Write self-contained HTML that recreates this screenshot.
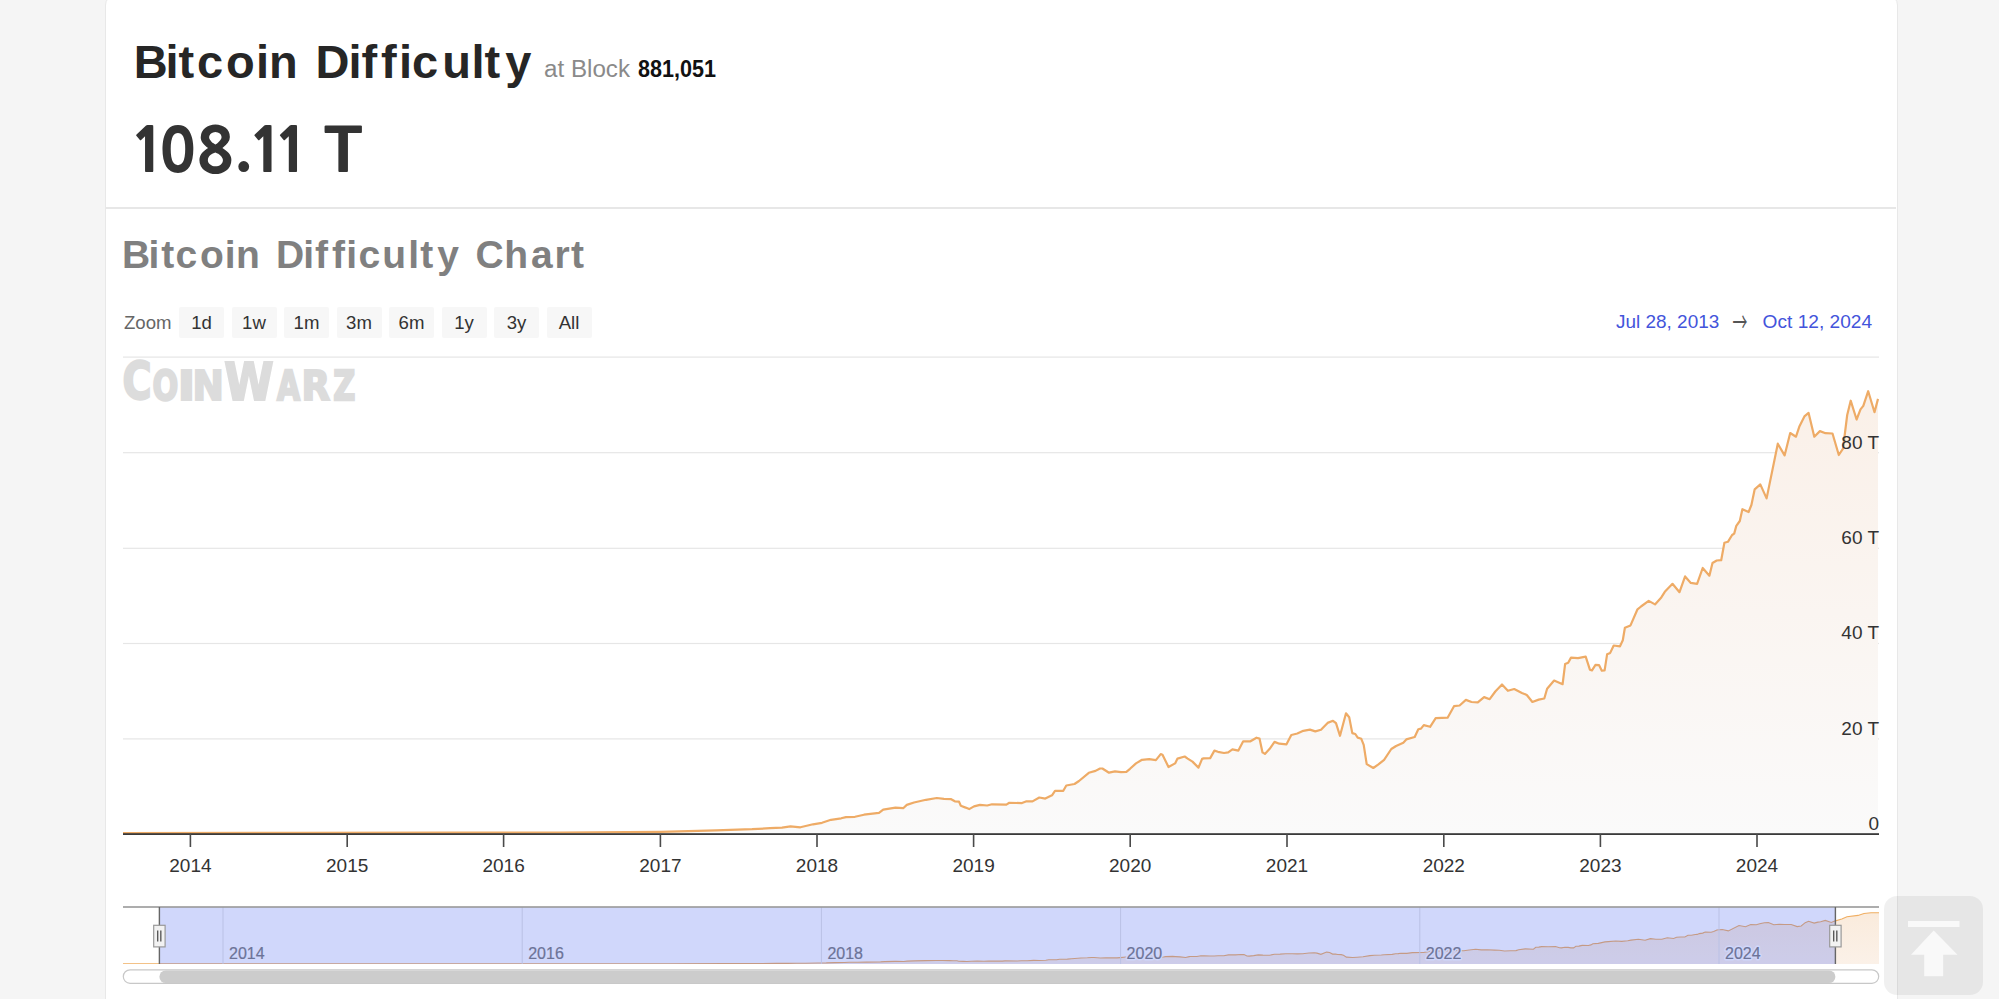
<!DOCTYPE html>
<html lang="en">
<head>
<meta charset="utf-8">
<title>Bitcoin Difficulty Chart</title>
<style>
html,body{margin:0;padding:0;}
body{width:1999px;height:999px;overflow:hidden;background:#f5f5f5;position:relative;font-family:"Liberation Sans",Arial,sans-serif;}
.card{position:absolute;left:105px;top:-5px;width:1791px;height:1100px;background:#fff;border:1px solid #e8e8e8;border-radius:10px;}
.divider{position:absolute;left:106px;top:207px;width:1790px;height:2px;background:#e7e7e7;}
.btn{position:absolute;top:307px;width:45px;height:31px;background:#f7f7f7;border-radius:2px;}
.chart{position:absolute;left:0;top:0;}
.chart{font-family:"Liberation Sans",Arial,sans-serif;}
.xl{font-size:19px;fill:#333;}
.yl{font-size:19px;fill:#333;}
.nl{font-size:16px;fill:#7a7a7a;stroke:#7a7a7a;stroke-width:0.2px;}
.nh{stroke:#fff;stroke-width:3px;stroke-linejoin:round;fill:#fff;}
.totop{position:absolute;left:1884px;top:896px;width:99px;height:99px;border-radius:13px;background:rgba(0,0,0,0.06);}
.totop svg{position:absolute;left:0;top:0;}
</style>
</head>
<body>
<div class="card"></div>
<div class="divider"></div>
<div class="btn" style="left:179px"></div>
<div class="btn" style="left:231.5px"></div>
<div class="btn" style="left:284px"></div>
<div class="btn" style="left:336.5px"></div>
<div class="btn" style="left:389px"></div>
<div class="btn" style="left:441.5px"></div>
<div class="btn" style="left:494px"></div>
<div class="btn" style="left:546.5px"></div>
<svg class="chart" width="1999" height="999" viewBox="0 0 1999 999">
<defs><linearGradient id="ag" x1="0" y1="0" x2="0" y2="1"><stop offset="0" stop-color="#faf0e8"/><stop offset="1" stop-color="#fafafa"/></linearGradient><linearGradient id="ng" x1="0" y1="0" x2="0" y2="1"><stop offset="0" stop-color="#faebdc"/><stop offset="1" stop-color="#fbf1e8"/></linearGradient><clipPath id="pc"><rect x="123" y="340" width="1756" height="495"/></clipPath><clipPath id="nc"><rect x="123" y="907" width="1756" height="57"/></clipPath></defs>
<text x="133.8 165.5 178.5 197 226 256 269 300 315.6 348.4 361.4 380.9 399 412.1 442.2 471.6 484.5 505.2" y="78.2" font-weight="bold" font-size="47" fill="#262626" style="font-variant-ligatures:none">Bitcoin Difficulty</text>
<text x="544" y="76.8" font-size="23.5" fill="#8a8a8a" textLength="86" lengthAdjust="spacingAndGlyphs">at Block</text>
<text x="638" y="76.8" font-size="23.5" font-weight="bold" fill="#111" textLength="78" lengthAdjust="spacingAndGlyphs">881,051</text>
<text x="129.85 158.9 197.05 234.25 248 273.6" y="171.9" dy="0 0 0 -4.6 4.6 0" style="font-family:NanumGothic,'Liberation Sans',sans-serif;font-weight:800;font-size:60px" fill="#333">108.11</text>
<text transform="translate(324,171.9) scale(1.17,1)" style="font-family:NanumGothic,'Liberation Sans',sans-serif;font-weight:800;font-size:60px" fill="#333">T</text>
<text x="122 148.4 161.2 175.4 200 224.8 236 262 275.9 303.2 315.1 331.9 346.3 358.6 382.2 408.2 420.2 437.2 460 475.5 504.3 530.9 554.4 570.9" y="267.9" font-weight="bold" font-size="39" fill="#808080" style="font-variant-ligatures:none">Bitcoin Difficulty Chart</text>
<text x="124" y="328.8" font-size="18.6" fill="#666">Zoom</text>
<text x="201.5" y="328.8" font-size="18.6" fill="#333" text-anchor="middle">1d</text>
<text x="254.0" y="328.8" font-size="18.6" fill="#333" text-anchor="middle">1w</text>
<text x="306.5" y="328.8" font-size="18.6" fill="#333" text-anchor="middle">1m</text>
<text x="359.0" y="328.8" font-size="18.6" fill="#333" text-anchor="middle">3m</text>
<text x="411.5" y="328.8" font-size="18.6" fill="#333" text-anchor="middle">6m</text>
<text x="464.0" y="328.8" font-size="18.6" fill="#333" text-anchor="middle">1y</text>
<text x="516.5" y="328.8" font-size="18.6" fill="#333" text-anchor="middle">3y</text>
<text x="569.0" y="328.8" font-size="18.6" fill="#333" text-anchor="middle">All</text>
<text x="1616" y="328.2" font-size="18.6" fill="#4354db" textLength="103.3" lengthAdjust="spacingAndGlyphs">Jul 28, 2013</text>
<text transform="translate(1732.4,320.6) scale(0.8,1.49)" y="7.68" style="font-family:'Noto Sans CJK JP','DejaVu Sans',sans-serif;font-size:18.6px" fill="#555">→</text>
<text x="1762.6" y="328.2" font-size="18.6" fill="#4354db" textLength="109.5" lengthAdjust="spacingAndGlyphs">Oct 12, 2024</text>
<g fill="#dcdcdc">
<text transform="translate(122.38,398.57) scale(0.779,1)" style="font-family:'DejaVu Sans',sans-serif;font-weight:bold;font-size:50.76px" stroke="#dcdcdc" stroke-width="2.27" stroke-linejoin="miter">C</text>
<text transform="translate(152.62,400.12) scale(0.735,1)" style="font-family:'DejaVu Sans',sans-serif;font-weight:bold;font-size:41.25px" stroke="#dcdcdc" stroke-width="2.33" stroke-linejoin="miter">O</text>
<text transform="translate(177.62,400.12) scale(1.167,1)" style="font-family:'DejaVu Sans',sans-serif;font-weight:bold;font-size:41.25px" stroke="#dcdcdc" stroke-width="1.85" stroke-linejoin="miter">I</text>
<text transform="translate(192.59,400.12) scale(0.910,1)" style="font-family:'DejaVu Sans',sans-serif;font-weight:bold;font-size:41.25px" stroke="#dcdcdc" stroke-width="2.10" stroke-linejoin="miter">N</text>
<text transform="translate(224.33,399.54) scale(0.859,1)" style="font-family:'DejaVu Sans',sans-serif;font-weight:bold;font-size:52.09px" stroke="#dcdcdc" stroke-width="2.16" stroke-linejoin="miter">W</text>
<text transform="translate(277.00,400.12) scale(0.722,1)" style="font-family:'DejaVu Sans',sans-serif;font-weight:bold;font-size:41.25px" stroke="#dcdcdc" stroke-width="2.35" stroke-linejoin="miter">A</text>
<text transform="translate(301.62,400.12) scale(0.901,1)" style="font-family:'DejaVu Sans',sans-serif;font-weight:bold;font-size:41.25px" stroke="#dcdcdc" stroke-width="2.11" stroke-linejoin="miter">R</text>
<text transform="translate(333.21,400.12) scale(0.739,1)" style="font-family:'DejaVu Sans',sans-serif;font-weight:bold;font-size:41.25px" stroke="#dcdcdc" stroke-width="2.33" stroke-linejoin="miter">Z</text>
</g>
<rect x="123" y="356.5" width="1756" height="1.2" fill="#e6e6e6"/>
<rect x="123" y="452.1" width="1756" height="1.2" fill="#e6e6e6"/>
<rect x="123" y="547.7" width="1756" height="1.2" fill="#e6e6e6"/>
<rect x="123" y="642.9" width="1756" height="1.2" fill="#e6e6e6"/>
<rect x="123" y="738.3" width="1756" height="1.2" fill="#e6e6e6"/>
<path d="M123 833 L300 832.9 L450 832.7 L560 832.5 L660.8 831.8 L716 830.4 L752 829.2 L770 828.2 L782 827.6 L790.5 826.4 L800.4 827.3 L813 824.3 L822 822.8 L831 819.8 L841.2 818.3 L846 817.1 L855 816.8 L864 814.7 L879 812.9 L883.2 809.6 L894 807.8 L895.4 807.6 L903.2 808.2 L906.8 804.9 L914 802.5 L926 799.8 L936.8 798 L944 798.9 L951.2 799.2 L954.8 801.3 L959 801.6 L960.8 805.8 L965.6 807.6 L969.2 809.1 L974 806.4 L980 804.9 L987.2 805.5 L992 804.3 L1006.4 804.6 L1009.3 802.8 L1022 803.1 L1026.5 801.3 L1032.5 801.4 L1039.3 797.5 L1045.3 798.6 L1052 795.3 L1055 790.8 L1063.3 790.8 L1066.3 785.5 L1074.5 784 L1079 781 L1088.8 772.8 L1095.5 770.9 L1100 768.5 L1102.4 768.5 L1109 772.7 L1115 771.4 L1121 772.1 L1126.4 771.8 L1130 768.8 L1136 763.4 L1142 759.8 L1149.2 759.2 L1155.9 760.1 L1160.7 754.1 L1162.5 754.7 L1168.5 767 L1175.1 763.4 L1177.5 758.6 L1184.7 756.5 L1187.7 758.6 L1192.5 761.6 L1198.5 767.6 L1202.1 758.9 L1203.6 758.4 L1210.2 758.1 L1214.4 750.6 L1218 751.8 L1224 753 L1228.2 752.4 L1232.4 749.4 L1238.4 750.6 L1243.2 741.3 L1250.5 741.3 L1256.5 737.7 L1259.5 738.6 L1262.5 752.4 L1264.9 753.9 L1269.7 748.8 L1274.5 741.9 L1279.3 743.7 L1286.5 744.3 L1291.3 735 L1297.3 733.5 L1303.3 730.8 L1309.9 729.6 L1315.3 731.4 L1321 729.8 L1327.6 722.9 L1333 720.8 L1336 723.2 L1340 735.8 L1346 713.3 L1349.2 717.2 L1352.3 733.1 L1355.3 734 L1357.7 737.6 L1361.3 738.8 L1363.7 744.8 L1366.7 764.1 L1373.3 768 L1378.1 764.7 L1384.1 759.9 L1391.3 749 L1396.1 746 L1403.3 742.7 L1406.3 739.4 L1414.7 737 L1418.3 729.2 L1421 728.6 L1423.8 725.1 L1430.1 726.8 L1435.7 718.1 L1447.6 717.7 L1454 706.2 L1459.6 705.5 L1465.9 699.9 L1471.5 702 L1477.8 702.4 L1484.1 697.1 L1489.7 699.2 L1495.3 691.5 L1502 684.5 L1507.9 690.8 L1514.2 689 L1521.9 692.9 L1526.8 695 L1532.4 702 L1538.7 699.6 L1544.3 698.5 L1547.1 688.7 L1554.1 680.5 L1562.6 684.2 L1565.1 664.1 L1568.2 662.7 L1571 657.6 L1578 658.1 L1585.7 656.7 L1589.9 669.7 L1592 670.4 L1595.5 664.8 L1599 665.1 L1601.8 670.7 L1604.6 670.4 L1607.1 654.3 L1610.2 652.9 L1613.7 645.5 L1620 646.3 L1622.8 640.3 L1624.9 627.8 L1630.5 625.4 L1637.5 609.3 L1641 606.5 L1648.7 600.9 L1655 604.4 L1661.3 597.4 L1664.8 591.8 L1672.5 583.8 L1679.5 592.2 L1685.1 576.4 L1690.8 582.9 L1697.1 583.8 L1702.7 568 L1709.4 575.7 L1712.5 563 L1716.7 560.5 L1721.2 560.2 L1724.4 542.7 L1727.9 541.8 L1732.1 535 L1734.2 533.6 L1736.3 525.9 L1739.8 521 L1742.4 509.2 L1748.6 512 L1751.4 505 L1754.7 489.3 L1760.3 484.4 L1766.6 498.4 L1777.8 443.7 L1784.6 455.4 L1790.2 433 L1796 436.7 L1799.5 426.2 L1804.4 416.4 L1808.6 412.9 L1814.3 436.7 L1819.9 431.1 L1825.5 433.2 L1832.5 433.5 L1838.8 455 L1843 448.6 L1847.2 415 L1850.7 400.7 L1856.6 419.5 L1860.5 409.4 L1863.3 405.9 L1868.2 391.2 L1874.5 412.2 L1878 398.9 L1878 834 L123 834 Z" fill="url(#ag)" clip-path="url(#pc)"/>
<path d="M123 833 L300 832.9 L450 832.7 L560 832.5 L660.8 831.8 L716 830.4 L752 829.2 L770 828.2 L782 827.6 L790.5 826.4 L800.4 827.3 L813 824.3 L822 822.8 L831 819.8 L841.2 818.3 L846 817.1 L855 816.8 L864 814.7 L879 812.9 L883.2 809.6 L894 807.8 L895.4 807.6 L903.2 808.2 L906.8 804.9 L914 802.5 L926 799.8 L936.8 798 L944 798.9 L951.2 799.2 L954.8 801.3 L959 801.6 L960.8 805.8 L965.6 807.6 L969.2 809.1 L974 806.4 L980 804.9 L987.2 805.5 L992 804.3 L1006.4 804.6 L1009.3 802.8 L1022 803.1 L1026.5 801.3 L1032.5 801.4 L1039.3 797.5 L1045.3 798.6 L1052 795.3 L1055 790.8 L1063.3 790.8 L1066.3 785.5 L1074.5 784 L1079 781 L1088.8 772.8 L1095.5 770.9 L1100 768.5 L1102.4 768.5 L1109 772.7 L1115 771.4 L1121 772.1 L1126.4 771.8 L1130 768.8 L1136 763.4 L1142 759.8 L1149.2 759.2 L1155.9 760.1 L1160.7 754.1 L1162.5 754.7 L1168.5 767 L1175.1 763.4 L1177.5 758.6 L1184.7 756.5 L1187.7 758.6 L1192.5 761.6 L1198.5 767.6 L1202.1 758.9 L1203.6 758.4 L1210.2 758.1 L1214.4 750.6 L1218 751.8 L1224 753 L1228.2 752.4 L1232.4 749.4 L1238.4 750.6 L1243.2 741.3 L1250.5 741.3 L1256.5 737.7 L1259.5 738.6 L1262.5 752.4 L1264.9 753.9 L1269.7 748.8 L1274.5 741.9 L1279.3 743.7 L1286.5 744.3 L1291.3 735 L1297.3 733.5 L1303.3 730.8 L1309.9 729.6 L1315.3 731.4 L1321 729.8 L1327.6 722.9 L1333 720.8 L1336 723.2 L1340 735.8 L1346 713.3 L1349.2 717.2 L1352.3 733.1 L1355.3 734 L1357.7 737.6 L1361.3 738.8 L1363.7 744.8 L1366.7 764.1 L1373.3 768 L1378.1 764.7 L1384.1 759.9 L1391.3 749 L1396.1 746 L1403.3 742.7 L1406.3 739.4 L1414.7 737 L1418.3 729.2 L1421 728.6 L1423.8 725.1 L1430.1 726.8 L1435.7 718.1 L1447.6 717.7 L1454 706.2 L1459.6 705.5 L1465.9 699.9 L1471.5 702 L1477.8 702.4 L1484.1 697.1 L1489.7 699.2 L1495.3 691.5 L1502 684.5 L1507.9 690.8 L1514.2 689 L1521.9 692.9 L1526.8 695 L1532.4 702 L1538.7 699.6 L1544.3 698.5 L1547.1 688.7 L1554.1 680.5 L1562.6 684.2 L1565.1 664.1 L1568.2 662.7 L1571 657.6 L1578 658.1 L1585.7 656.7 L1589.9 669.7 L1592 670.4 L1595.5 664.8 L1599 665.1 L1601.8 670.7 L1604.6 670.4 L1607.1 654.3 L1610.2 652.9 L1613.7 645.5 L1620 646.3 L1622.8 640.3 L1624.9 627.8 L1630.5 625.4 L1637.5 609.3 L1641 606.5 L1648.7 600.9 L1655 604.4 L1661.3 597.4 L1664.8 591.8 L1672.5 583.8 L1679.5 592.2 L1685.1 576.4 L1690.8 582.9 L1697.1 583.8 L1702.7 568 L1709.4 575.7 L1712.5 563 L1716.7 560.5 L1721.2 560.2 L1724.4 542.7 L1727.9 541.8 L1732.1 535 L1734.2 533.6 L1736.3 525.9 L1739.8 521 L1742.4 509.2 L1748.6 512 L1751.4 505 L1754.7 489.3 L1760.3 484.4 L1766.6 498.4 L1777.8 443.7 L1784.6 455.4 L1790.2 433 L1796 436.7 L1799.5 426.2 L1804.4 416.4 L1808.6 412.9 L1814.3 436.7 L1819.9 431.1 L1825.5 433.2 L1832.5 433.5 L1838.8 455 L1843 448.6 L1847.2 415 L1850.7 400.7 L1856.6 419.5 L1860.5 409.4 L1863.3 405.9 L1868.2 391.2 L1874.5 412.2 L1878 398.9" fill="none" stroke="#eeab66" stroke-width="2.2" stroke-linejoin="round" clip-path="url(#pc)"/>
<rect x="123" y="833.2" width="1756" height="1.8" fill="#3a3a3a"/>
<rect x="189.6" y="834" width="1.6" height="13" fill="#4a4a4a"/>
<text x="190.4" y="872" text-anchor="middle" class="xl">2014</text>
<rect x="346.4" y="834" width="1.6" height="13" fill="#4a4a4a"/>
<text x="347.2" y="872" text-anchor="middle" class="xl">2015</text>
<rect x="502.8" y="834" width="1.6" height="13" fill="#4a4a4a"/>
<text x="503.6" y="872" text-anchor="middle" class="xl">2016</text>
<rect x="659.6" y="834" width="1.6" height="13" fill="#4a4a4a"/>
<text x="660.4" y="872" text-anchor="middle" class="xl">2017</text>
<rect x="816.2" y="834" width="1.6" height="13" fill="#4a4a4a"/>
<text x="817" y="872" text-anchor="middle" class="xl">2018</text>
<rect x="972.8000000000001" y="834" width="1.6" height="13" fill="#4a4a4a"/>
<text x="973.6" y="872" text-anchor="middle" class="xl">2019</text>
<rect x="1129.4" y="834" width="1.6" height="13" fill="#4a4a4a"/>
<text x="1130.2" y="872" text-anchor="middle" class="xl">2020</text>
<rect x="1286.2" y="834" width="1.6" height="13" fill="#4a4a4a"/>
<text x="1287" y="872" text-anchor="middle" class="xl">2021</text>
<rect x="1443.0" y="834" width="1.6" height="13" fill="#4a4a4a"/>
<text x="1443.8" y="872" text-anchor="middle" class="xl">2022</text>
<rect x="1599.6000000000001" y="834" width="1.6" height="13" fill="#4a4a4a"/>
<text x="1600.4" y="872" text-anchor="middle" class="xl">2023</text>
<rect x="1756.2" y="834" width="1.6" height="13" fill="#4a4a4a"/>
<text x="1757" y="872" text-anchor="middle" class="xl">2024</text>
<text x="1879" y="448.6" text-anchor="end" class="yl">80 T</text>
<text x="1879" y="544.2" text-anchor="end" class="yl">60 T</text>
<text x="1879" y="639.4" text-anchor="end" class="yl">40 T</text>
<text x="1879" y="734.8" text-anchor="end" class="yl">20 T</text>
<text x="1879" y="830" text-anchor="end" class="yl">0</text>
<g clip-path="url(#nc)">
<path d="M123 963.9 L327.7 963.9 L470.9 963.9 L576 963.9 L672.2 963.8 L724.9 963.6 L759.3 963.5 L776.5 963.4 L788 963.4 L796.1 963.3 L805.5 963.3 L817.6 963 L826.2 962.9 L834.8 962.6 L844.5 962.5 L849.1 962.3 L857.7 962.3 L866.3 962.1 L880.6 961.9 L884.6 961.6 L894.9 961.4 L896.3 961.4 L903.7 961.5 L907.2 961.1 L914 960.9 L925.5 960.6 L935.8 960.5 L942.7 960.5 L949.6 960.6 L953 960.8 L957 960.8 L958.7 961.2 L963.3 961.4 L966.8 961.5 L971.3 961.3 L977.1 961.1 L983.9 961.2 L988.5 961.1 L1002.3 961.1 L1005 960.9 L1017.2 961 L1021.5 960.8 L1027.2 960.8 L1033.7 960.4 L1039.4 960.5 L1045.8 960.2 L1048.7 959.7 L1056.6 959.7 L1059.5 959.2 L1067.3 959.1 L1071.6 958.8 L1081 958 L1087.4 957.8 L1091.7 957.5 L1094 957.5 L1100.3 958 L1106 957.8 L1111.7 957.9 L1116.9 957.9 L1120.3 957.6 L1126 957 L1131.8 956.7 L1138.6 956.6 L1145 956.7 L1149.6 956.1 L1151.4 956.2 L1157.1 957.4 L1163.4 957 L1165.7 956.6 L1172.6 956.4 L1175.4 956.6 L1180 956.9 L1185.7 957.5 L1189.2 956.6 L1190.6 956.5 L1196.9 956.5 L1200.9 955.8 L1204.4 955.9 L1210.1 956 L1214.1 956 L1218.1 955.7 L1223.8 955.8 L1228.4 954.9 L1235.4 954.9 L1241.1 954.5 L1244 954.6 L1246.9 956 L1249.1 956.1 L1253.7 955.6 L1258.3 954.9 L1262.9 955.1 L1269.8 955.2 L1274.4 954.2 L1280.1 954.1 L1285.8 953.8 L1292.1 953.7 L1297.3 953.9 L1302.7 953.7 L1309 953 L1314.2 952.8 L1317 953.1 L1320.9 954.3 L1326.6 952.1 L1329.6 952.5 L1332.6 954.1 L1335.5 954.1 L1337.8 954.5 L1341.2 954.6 L1343.5 955.2 L1346.4 957.1 L1352.7 957.5 L1357.2 957.2 L1363 956.7 L1369.9 955.6 L1374.4 955.3 L1381.3 955 L1384.2 954.7 L1392.2 954.4 L1395.6 953.7 L1398.2 953.6 L1400.9 953.3 L1406.9 953.4 L1412.3 952.6 L1423.6 952.5 L1429.7 951.4 L1435.1 951.3 L1441.1 950.8 L1446.4 951 L1452.5 951 L1458.5 950.5 L1463.8 950.7 L1469.2 950 L1475.6 949.3 L1481.2 949.9 L1487.2 949.7 L1494.6 950.1 L1499.3 950.3 L1504.6 951 L1510.6 950.8 L1516 950.6 L1518.6 949.7 L1525.3 948.9 L1533.4 949.2 L1535.8 947.3 L1538.8 947.1 L1541.5 946.6 L1548.2 946.7 L1555.5 946.5 L1559.5 947.8 L1561.5 947.9 L1564.9 947.3 L1568.2 947.4 L1570.9 947.9 L1573.6 947.9 L1575.9 946.3 L1578.9 946.1 L1582.2 945.4 L1588.3 945.5 L1590.9 944.9 L1592.9 943.7 L1598.3 943.4 L1605 941.9 L1608.3 941.6 L1615.7 941 L1621.7 941.4 L1627.7 940.7 L1631 940.1 L1638.4 939.3 L1645.1 940.2 L1650.4 938.6 L1655.9 939.2 L1661.9 939.3 L1667.2 937.8 L1673.6 938.5 L1676.6 937.3 L1680.6 937 L1684.9 937 L1688 935.3 L1691.3 935.2 L1695.3 934.5 L1697.3 934.4 L1699.3 933.6 L1702.7 933.1 L1705.2 932 L1711.1 932.3 L1713.7 931.6 L1716.9 930 L1722.2 929.5 L1728.3 930.9 L1739 925.5 L1745.5 926.7 L1750.8 924.5 L1756.3 924.8 L1759.7 923.8 L1764.4 922.8 L1768.4 922.5 L1773.8 924.8 L1779.2 924.3 L1784.5 924.5 L1791.2 924.5 L1797.2 926.6 L1801.2 926 L1805.2 922.7 L1808.6 921.3 L1814.2 923.1 L1817.9 922.1 L1820.6 921.8 L1825.3 920.4 L1831.3 922.4 L1834.6 921.1 L1841.8 919 L1847 916.7 L1858 915.4 L1864 913.5 L1871 912.7 L1880 912.8 L1880 964 L123 964 Z" fill="url(#ng)"/>
<path d="M123 963.9 L327.7 963.9 L470.9 963.9 L576 963.9 L672.2 963.8 L724.9 963.6 L759.3 963.5 L776.5 963.4 L788 963.4 L796.1 963.3 L805.5 963.3 L817.6 963 L826.2 962.9 L834.8 962.6 L844.5 962.5 L849.1 962.3 L857.7 962.3 L866.3 962.1 L880.6 961.9 L884.6 961.6 L894.9 961.4 L896.3 961.4 L903.7 961.5 L907.2 961.1 L914 960.9 L925.5 960.6 L935.8 960.5 L942.7 960.5 L949.6 960.6 L953 960.8 L957 960.8 L958.7 961.2 L963.3 961.4 L966.8 961.5 L971.3 961.3 L977.1 961.1 L983.9 961.2 L988.5 961.1 L1002.3 961.1 L1005 960.9 L1017.2 961 L1021.5 960.8 L1027.2 960.8 L1033.7 960.4 L1039.4 960.5 L1045.8 960.2 L1048.7 959.7 L1056.6 959.7 L1059.5 959.2 L1067.3 959.1 L1071.6 958.8 L1081 958 L1087.4 957.8 L1091.7 957.5 L1094 957.5 L1100.3 958 L1106 957.8 L1111.7 957.9 L1116.9 957.9 L1120.3 957.6 L1126 957 L1131.8 956.7 L1138.6 956.6 L1145 956.7 L1149.6 956.1 L1151.4 956.2 L1157.1 957.4 L1163.4 957 L1165.7 956.6 L1172.6 956.4 L1175.4 956.6 L1180 956.9 L1185.7 957.5 L1189.2 956.6 L1190.6 956.5 L1196.9 956.5 L1200.9 955.8 L1204.4 955.9 L1210.1 956 L1214.1 956 L1218.1 955.7 L1223.8 955.8 L1228.4 954.9 L1235.4 954.9 L1241.1 954.5 L1244 954.6 L1246.9 956 L1249.1 956.1 L1253.7 955.6 L1258.3 954.9 L1262.9 955.1 L1269.8 955.2 L1274.4 954.2 L1280.1 954.1 L1285.8 953.8 L1292.1 953.7 L1297.3 953.9 L1302.7 953.7 L1309 953 L1314.2 952.8 L1317 953.1 L1320.9 954.3 L1326.6 952.1 L1329.6 952.5 L1332.6 954.1 L1335.5 954.1 L1337.8 954.5 L1341.2 954.6 L1343.5 955.2 L1346.4 957.1 L1352.7 957.5 L1357.2 957.2 L1363 956.7 L1369.9 955.6 L1374.4 955.3 L1381.3 955 L1384.2 954.7 L1392.2 954.4 L1395.6 953.7 L1398.2 953.6 L1400.9 953.3 L1406.9 953.4 L1412.3 952.6 L1423.6 952.5 L1429.7 951.4 L1435.1 951.3 L1441.1 950.8 L1446.4 951 L1452.5 951 L1458.5 950.5 L1463.8 950.7 L1469.2 950 L1475.6 949.3 L1481.2 949.9 L1487.2 949.7 L1494.6 950.1 L1499.3 950.3 L1504.6 951 L1510.6 950.8 L1516 950.6 L1518.6 949.7 L1525.3 948.9 L1533.4 949.2 L1535.8 947.3 L1538.8 947.1 L1541.5 946.6 L1548.2 946.7 L1555.5 946.5 L1559.5 947.8 L1561.5 947.9 L1564.9 947.3 L1568.2 947.4 L1570.9 947.9 L1573.6 947.9 L1575.9 946.3 L1578.9 946.1 L1582.2 945.4 L1588.3 945.5 L1590.9 944.9 L1592.9 943.7 L1598.3 943.4 L1605 941.9 L1608.3 941.6 L1615.7 941 L1621.7 941.4 L1627.7 940.7 L1631 940.1 L1638.4 939.3 L1645.1 940.2 L1650.4 938.6 L1655.9 939.2 L1661.9 939.3 L1667.2 937.8 L1673.6 938.5 L1676.6 937.3 L1680.6 937 L1684.9 937 L1688 935.3 L1691.3 935.2 L1695.3 934.5 L1697.3 934.4 L1699.3 933.6 L1702.7 933.1 L1705.2 932 L1711.1 932.3 L1713.7 931.6 L1716.9 930 L1722.2 929.5 L1728.3 930.9 L1739 925.5 L1745.5 926.7 L1750.8 924.5 L1756.3 924.8 L1759.7 923.8 L1764.4 922.8 L1768.4 922.5 L1773.8 924.8 L1779.2 924.3 L1784.5 924.5 L1791.2 924.5 L1797.2 926.6 L1801.2 926 L1805.2 922.7 L1808.6 921.3 L1814.2 923.1 L1817.9 922.1 L1820.6 921.8 L1825.3 920.4 L1831.3 922.4 L1834.6 921.1 L1841.8 919 L1847 916.7 L1858 915.4 L1864 913.5 L1871 912.7 L1880 912.8" fill="none" stroke="#f0ae62" stroke-width="1.1"/>
<rect x="222.5" y="907" width="1" height="57" fill="#e2e2e2"/>
<text x="229" y="958.5" class="nl nh">2014</text>
<text x="229" y="958.5" class="nl">2014</text>
<rect x="521.7" y="907" width="1" height="57" fill="#e2e2e2"/>
<text x="528.2" y="958.5" class="nl nh">2016</text>
<text x="528.2" y="958.5" class="nl">2016</text>
<rect x="820.9" y="907" width="1" height="57" fill="#e2e2e2"/>
<text x="827.4" y="958.5" class="nl nh">2018</text>
<text x="827.4" y="958.5" class="nl">2018</text>
<rect x="1120.1" y="907" width="1" height="57" fill="#e2e2e2"/>
<text x="1126.6" y="958.5" class="nl nh">2020</text>
<text x="1126.6" y="958.5" class="nl">2020</text>
<rect x="1419.3" y="907" width="1" height="57" fill="#e2e2e2"/>
<text x="1425.8" y="958.5" class="nl nh">2022</text>
<text x="1425.8" y="958.5" class="nl">2022</text>
<rect x="1718.5" y="907" width="1" height="57" fill="#e2e2e2"/>
<text x="1725" y="958.5" class="nl nh">2024</text>
<text x="1725" y="958.5" class="nl">2024</text>
<rect x="159.4" y="907" width="1676.0" height="57" fill="rgba(67,95,239,0.25)"/>
</g>
<rect x="123" y="906.2" width="1756" height="1.6" fill="#999"/>
<rect x="158.70000000000002" y="907" width="1.4" height="57" fill="#666"/>
<rect x="1834.7" y="907" width="1.4" height="57" fill="#666"/>
<rect x="153.70000000000002" y="925.3" width="11.4" height="21.6" fill="#f2f2f2" stroke="#999" stroke-width="1.2"/>
<rect x="157.20000000000002" y="930.5" width="1.1" height="11" fill="#333"/>
<rect x="160.3" y="930.5" width="1.1" height="11" fill="#333"/>
<rect x="1829.7" y="925.3" width="11.4" height="21.6" fill="#f2f2f2" stroke="#999" stroke-width="1.2"/>
<rect x="1833.2" y="930.5" width="1.1" height="11" fill="#333"/>
<rect x="1836.3000000000002" y="930.5" width="1.1" height="11" fill="#333"/>
<rect x="123.3" y="969.8" width="1755.4" height="13.6" rx="6.8" fill="#fff" stroke="#c8c8c8" stroke-width="1.2"/>
<rect x="159.4" y="970.4" width="1676.0" height="12.6" rx="6.3" fill="#cccccc"/>
</svg>
<div class="totop"><svg width="99" height="99" viewBox="0 0 99 99"><rect x="24" y="25" width="51.5" height="6" fill="rgba(255,255,255,0.75)"/><path d="M49.7 34.6 L73.5 58.8 L59.2 58.8 L59.2 80.2 L40.2 80.2 L40.2 58.8 L27 58.8 Z" fill="rgba(255,255,255,0.75)"/></svg></div>
</body>
</html>
